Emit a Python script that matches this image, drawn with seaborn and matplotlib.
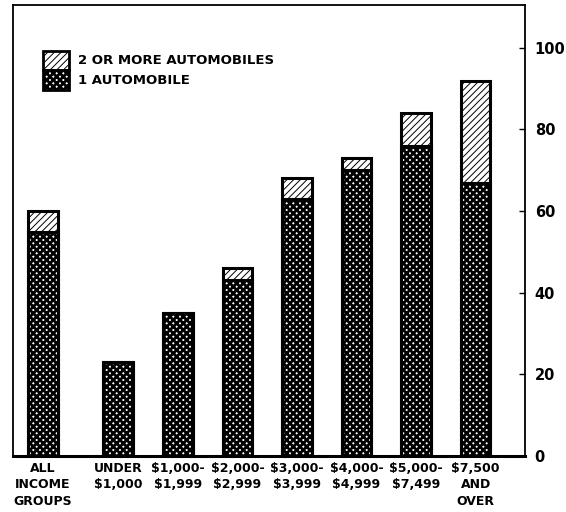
import matplotlib
matplotlib.use("Agg")
import matplotlib.pyplot as plt
import seaborn as sns
import numpy as np
from matplotlib.patches import Patch

# ---- data ----
categories = ["ALL\nINCOME\nGROUPS", "UNDER\n$1,000", "$1,000-\n$1,999", "$2,000-\n$2,999",
              "$3,000-\n$3,999", "$4,000-\n$4,999", "$5,000-\n$7,499", "$7,500\nAND\nOVER"]
positions = [0, 1.27, 2.27, 3.27, 4.27, 5.27, 6.27, 7.27]
total_pct = [60, 23, 35, 46, 68, 73, 84, 92]          # 1 or more automobiles
one_auto_pct = [55, 23, 35, 43, 63, 70, 76, 67]        # exactly 1 automobile
yticks = [0, 20, 40, 60, 80, 100]
legend_labels = ["2 OR MORE AUTOMOBILES", "1 AUTOMOBILE"]

sns.set_style("white")
plt.rcParams["font.family"] = ["DejaVu Sans"]
plt.rcParams["hatch.color"] = "black"
plt.rcParams["text.color"] = "black"
plt.rcParams["xtick.color"] = "black"
plt.rcParams["ytick.color"] = "black"

HATCH_DIAG_LW = 0.7
HATCH_CROSS_LW = 2.0

fig = plt.figure(figsize=(5.66, 5.12), dpi=100)
ax = fig.add_axes([13 / 566, 1 - 456 / 512, (525 - 13) / 566, (456 - 5) / 512])

plt.rcParams["hatch.linewidth"] = HATCH_DIAG_LW
sns.barplot(x=positions, y=total_pct, native_scale=True, width=0.5, color="white",
            edgecolor="black", linewidth=2.2, hatch="/////", ax=ax)
plt.rcParams["hatch.linewidth"] = HATCH_CROSS_LW
sns.barplot(x=positions, y=one_auto_pct, native_scale=True, width=0.5, color="white",
            edgecolor="black", linewidth=2.2, hatch="xxxxx", ax=ax)

n = len(positions)
for i, p in enumerate(ax.patches):
    lw = HATCH_DIAG_LW if i < n else HATCH_CROSS_LW
    if hasattr(p, "set_hatch_linewidth"):
        p.set_hatch_linewidth(lw)

ax.set_xlim(-0.5, 8.1)
ax.set_ylim(0, 110.5)
ax.set_xticks(positions)
ax.set_xticklabels(categories, fontsize=9, fontweight="bold", linespacing=1.35)
ax.tick_params(axis="x", length=0, pad=4)

ax.yaxis.tick_right()
ax.set_yticks(yticks)
ax.set_yticklabels([str(v) for v in yticks], fontsize=10.5, fontweight="bold")
ax.tick_params(axis="y", direction="in", length=4, width=1, pad=7, right=True, left=False)

for side in ["top", "right", "left"]:
    ax.spines[side].set_linewidth(1.3)
    ax.spines[side].set_color("black")
ax.spines["bottom"].set_linewidth(2.2)
ax.spines["bottom"].set_color("black")

handles = [Patch(facecolor="white", edgecolor="black", hatch="/////", linewidth=2),
           Patch(facecolor="white", edgecolor="black", hatch="xxxxx", linewidth=2)]
leg = ax.legend(handles, legend_labels, loc="upper left", bbox_to_anchor=(0.035, 0.925),
                frameon=False, handlelength=1.95, handleheight=1.85, labelspacing=0.05,
                handletextpad=0.7, prop={"weight": "bold", "size": 9.5})
for i, h in enumerate(leg.legend_handles):
    if hasattr(h, "set_hatch_linewidth"):
        h.set_hatch_linewidth(HATCH_DIAG_LW if i == 0 else HATCH_CROSS_LW)

ax.set_xlabel("")
ax.set_ylabel("")
fig.savefig("out.png", dpi=100)
